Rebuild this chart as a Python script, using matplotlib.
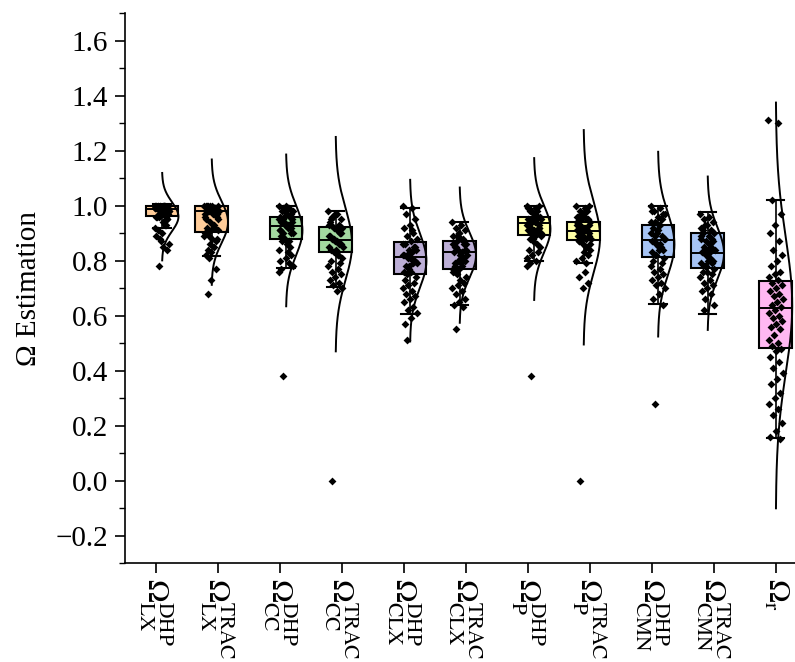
import numpy as np
import matplotlib.pyplot as plt
from matplotlib.ticker import MultipleLocator

plt.rcParams['font.family'] = ['Liberation Serif', 'DejaVu Serif']
plt.rcParams['mathtext.fontset'] = 'stix'

# --- DADOS ---
labels = [r'$\Omega_{\mathrm{LX}}^{\mathrm{DHP}}$', r'$\Omega_{\mathrm{LX}}^{\mathrm{TRAC}}$',
          r'$\Omega_{\mathrm{CC}}^{\mathrm{DHP}}$', r'$\Omega_{\mathrm{CC}}^{\mathrm{TRAC}}$',
          r'$\Omega_{\mathrm{CLX}}^{\mathrm{DHP}}$', r'$\Omega_{\mathrm{CLX}}^{\mathrm{TRAC}}$',
          r'$\Omega_{\mathrm{P}}^{\mathrm{DHP}}$', r'$\Omega_{\mathrm{P}}^{\mathrm{TRAC}}$',
          r'$\Omega_{\mathrm{CMN}}^{\mathrm{DHP}}$', r'$\Omega_{\mathrm{CMN}}^{\mathrm{TRAC}}$',
          r'$\Omega_{\mathrm{r}}$']

lx_dhp = [1.00, 0.99, 1.00, 0.98, 0.99, 1.00, 0.97, 0.99, 0.98, 1.00, 0.99, 0.96, 0.98, 0.99,
          1.00, 0.97, 0.99, 0.98, 0.96, 0.99, 1.00, 0.98, 0.97, 0.99, 0.95, 0.98, 0.99, 1.00,
          0.96, 0.97, 0.94, 0.99, 0.93, 0.98, 0.92, 0.97, 0.91, 0.95, 0.90, 0.89, 0.93, 0.88,
          0.86, 0.85, 0.96, 0.84, 0.87, 0.99, 1.00, 0.78]
lx_trac = [1.00, 0.99, 1.00, 0.98, 0.99, 1.00, 0.99, 0.98, 1.00, 0.97, 0.99, 0.98, 1.00, 0.96,
           0.99, 0.98, 0.97, 1.00, 0.95, 0.99, 0.94, 0.98, 0.93, 0.92, 0.96, 0.91, 0.90, 0.93,
           0.89, 0.91, 0.88, 0.90, 0.87, 0.86, 0.89, 0.85, 0.84, 0.88, 0.83, 0.82, 0.92, 0.81,
           0.95, 0.99, 1.00, 0.77, 0.73, 0.97, 0.99, 0.68]
cc_dhp = [1.00, 0.99, 0.98, 0.97, 1.00, 0.96, 0.99, 0.95, 0.98, 0.97, 0.94, 0.96, 0.93, 0.95,
          0.92, 0.99, 0.94, 0.93, 0.91, 0.92, 0.96, 0.90, 0.93, 0.89, 0.92, 0.88, 0.91, 0.87,
          0.90, 0.95, 0.86, 0.89, 0.85, 0.88, 0.84, 0.83, 0.87, 0.82, 0.81, 0.80, 0.79, 0.94,
          0.78, 0.97, 0.77, 0.90, 0.98, 0.76, 0.93, 0.38]
cc_trac = [0.98, 0.97, 0.96, 0.95, 0.97, 0.94, 0.93, 0.96, 0.92, 0.91, 0.93, 0.90, 0.92, 0.89,
           0.91, 0.88, 0.90, 0.87, 0.89, 0.86, 0.88, 0.85, 0.87, 0.84, 0.86, 0.83, 0.85, 0.82,
           0.88, 0.81, 0.84, 0.80, 0.79, 0.83, 0.78, 0.77, 0.76, 0.75, 0.74, 0.73, 0.72, 0.71,
           0.70, 0.69, 0.95, 0.90, 0.87, 0.93, 0.82, 0.00]
clx_dhp = [1.00, 0.99, 0.97, 0.95, 0.93, 0.92, 0.90, 0.89, 0.88, 0.87, 0.86, 0.85, 0.84, 0.86,
           0.83, 0.82, 0.84, 0.81, 0.82, 0.80, 0.81, 0.79, 0.83, 0.78, 0.80, 0.77, 0.76, 0.79,
           0.75, 0.74, 0.76, 0.73, 0.72, 0.71, 0.70, 0.69, 0.68, 0.67, 0.66, 0.65, 0.63, 0.62,
           0.61, 0.59, 0.57, 0.85, 0.78, 0.82, 0.91, 0.51]
clx_trac = [0.94, 0.93, 0.92, 0.91, 0.90, 0.89, 0.88, 0.87, 0.86, 0.88, 0.85, 0.87, 0.84, 0.86,
            0.83, 0.85, 0.84, 0.82, 0.83, 0.81, 0.80, 0.82, 0.79, 0.78, 0.80, 0.77, 0.76, 0.78,
            0.75, 0.74, 0.73, 0.76, 0.72, 0.71, 0.70, 0.69, 0.68, 0.66, 0.65, 0.64, 0.63, 0.89,
            0.84, 0.81, 0.79, 0.86, 0.90, 0.77, 0.83, 0.55]
p_dhp = [1.00, 0.99, 0.98, 1.00, 0.97, 0.99, 0.96, 0.98, 0.95, 0.97, 0.94, 0.96, 0.95, 0.93,
         0.94, 0.92, 0.96, 0.91, 0.93, 0.90, 0.95, 0.89, 0.94, 0.88, 0.92, 0.87, 0.91, 0.86,
         0.90, 0.85, 0.89, 0.84, 0.83, 0.82, 0.81, 0.80, 0.79, 0.93, 0.97, 0.95, 0.98, 0.94,
         0.90, 0.96, 0.99, 0.92, 0.88, 0.78, 0.95, 0.38]
p_trac = [1.00, 0.99, 0.98, 1.00, 0.97, 0.96, 0.98, 0.95, 0.94, 0.96, 0.93, 0.95, 0.92, 0.94,
          0.91, 0.93, 0.90, 0.92, 0.89, 0.91, 0.90, 0.88, 0.92, 0.87, 0.89, 0.86, 0.91, 0.85,
          0.88, 0.84, 0.83, 0.87, 0.82, 0.81, 0.80, 0.79, 0.90, 0.93, 0.89, 0.94, 0.91, 0.97,
          0.86, 0.76, 0.74, 0.72, 0.70, 0.93, 0.88, 0.00]
cmn_dhp = [1.00, 0.99, 0.98, 0.97, 0.96, 0.98, 0.95, 0.94, 0.97, 0.93, 0.92, 0.95, 0.91, 0.90,
           0.93, 0.89, 0.88, 0.91, 0.87, 0.89, 0.86, 0.88, 0.85, 0.87, 0.84, 0.86, 0.83, 0.85,
           0.82, 0.81, 0.84, 0.80, 0.79, 0.82, 0.78, 0.77, 0.76, 0.75, 0.74, 0.73, 0.72, 0.71,
           0.70, 0.68, 0.66, 0.64, 0.90, 0.94, 0.86, 0.28]
cmn_trac = [0.97, 0.96, 0.95, 0.94, 0.93, 0.92, 0.91, 0.93, 0.90, 0.89, 0.91, 0.88, 0.87, 0.89,
            0.86, 0.85, 0.87, 0.84, 0.83, 0.85, 0.82, 0.84, 0.81, 0.83, 0.80, 0.82, 0.79, 0.81,
            0.78, 0.77, 0.80, 0.76, 0.75, 0.78, 0.74, 0.73, 0.72, 0.71, 0.70, 0.69, 0.68, 0.66,
            0.64, 0.86, 0.90, 0.79, 0.76, 0.88, 0.83, 0.62]
omega_r = [1.31, 1.30, 1.02, 0.97, 0.93, 0.90, 0.87, 0.84, 0.82, 0.80, 0.78, 0.76, 0.75, 0.74,
           0.73, 0.72, 0.71, 0.70, 0.69, 0.68, 0.67, 0.66, 0.65, 0.64, 0.63, 0.62, 0.61, 0.60,
           0.59, 0.58, 0.57, 0.56, 0.55, 0.53, 0.51, 0.50, 0.49, 0.48, 0.47, 0.45, 0.43, 0.41,
           0.39, 0.37, 0.35, 0.32, 0.30, 0.28, 0.26, 0.24, 0.21, 0.18, 0.16, 0.15]

series = [lx_dhp, lx_trac, cc_dhp, cc_trac, clx_dhp, clx_trac,
          p_dhp, p_trac, cmn_dhp, cmn_trac, omega_r]

# estatísticas das caixas (Q1, mediana, Q3, bigodes)
q1 = [0.961, 0.905, 0.880, 0.830, 0.753, 0.770, 0.892, 0.874, 0.813, 0.773, 0.484]
med = [0.988, 0.982, 0.925, 0.876, 0.813, 0.832, 0.937, 0.909, 0.874, 0.828, 0.629]
q3 = [0.998, 0.998, 0.959, 0.921, 0.867, 0.872, 0.958, 0.939, 0.930, 0.900, 0.727]
wlo = [0.920, 0.818, 0.772, 0.704, 0.607, 0.640, 0.797, 0.791, 0.642, 0.607, 0.156]
whi = [1.005, 1.000, 1.000, 0.982, 0.992, 0.940, 1.000, 1.000, 0.998, 0.976, 1.022]

# curva normal (média, desvio)
curve_mean = [0.960, 0.940, 0.910, 0.860, 0.800, 0.820, 0.915, 0.885, 0.860, 0.827, 0.637]
curve_sd = [0.053, 0.076, 0.092, 0.130, 0.098, 0.082, 0.086, 0.130, 0.112, 0.093, 0.246]

colors = ['#FFCC99', '#FFCC99', '#A3D9A0', '#A3D9A0', '#BCAED6', '#BCAED6',
          '#FFFFA6', '#FFFFA6', '#A6C4F5', '#A6C4F5', '#FFB8F2']

# posições: pares agrupados em torno dos ticks
ticks = np.arange(1, 12)
positions = [1.1, 1.9, 3.1, 3.9, 5.1, 5.9, 7.1, 7.9, 9.1, 9.9, 11.0]
BOX_W = 0.53
JITTER = 0.12

fig = plt.figure(figsize=(7.95, 6.62), dpi=100)
ax = fig.add_axes([0.157, 0.1495, 0.843, 0.8305])

stats = []
for i in range(len(series)):
    stats.append(dict(q1=q1[i], med=med[i], q3=q3[i], whislo=wlo[i], whishi=whi[i], fliers=[]))

bp = ax.bxp(stats, positions=positions, widths=BOX_W, patch_artist=True,
            showfliers=False, capwidths=0.28,
            boxprops=dict(linewidth=1.5, edgecolor='black'),
            medianprops=dict(color='black', linewidth=1.4),
            whiskerprops=dict(color='black', linewidth=1.2),
            capprops=dict(color='black', linewidth=1.5))
for patch, c in zip(bp['boxes'], colors):
    patch.set_facecolor(c)
    patch.set_zorder(2)

for i, vals in enumerate(series):
    vals = np.asarray(vals)
    n = len(vals)
    off = ((np.arange(n) * 0.618034) % 1.0 - 0.5) * 2 * JITTER
    ax.scatter(positions[i] + off, vals, marker='D', s=16, color='black',
               linewidths=0, zorder=3)

    # meia curva normal à direita da caixa
    m, sd = curve_mean[i], curve_sd[i]
    yy = np.linspace(m - 3 * sd, m + 3 * sd, 200)
    pdf = np.exp(-0.5 * ((yy - m) / sd) ** 2)
    ax.plot(positions[i] + pdf * BOX_W / 2, yy, color='black', lw=1.4, zorder=4)

ax.set_xlim(0.5, 11.31)
ax.set_xticks(ticks)
ax.set_xticklabels(labels, rotation=-90, fontsize=22, va='top', ha='center')
ax.set_yticks(np.arange(-0.2, 1.61, 0.2))
ax.yaxis.set_minor_locator(MultipleLocator(0.1))
ax.set_ylim(-0.3, 1.7)
ax.yaxis.set_major_formatter(plt.FuncFormatter(lambda v, p: f'{v:.1f}'.replace('-', '\u2212')))
ax.tick_params(axis='y', labelsize=21, direction='out', length=7, width=1.2, pad=5)
ax.tick_params(axis='y', which='minor', direction='out', length=4, width=1.0)
ax.tick_params(axis='x', direction='out', length=7, width=1.2, pad=4)
ax.set_ylabel('\u03a9 Estimation', fontsize=21, labelpad=10)

for s in ['top', 'right']:
    ax.spines[s].set_visible(False)
for s in ['left', 'bottom']:
    ax.spines[s].set_linewidth(1.2)

fig.savefig('out.png', dpi=100)
